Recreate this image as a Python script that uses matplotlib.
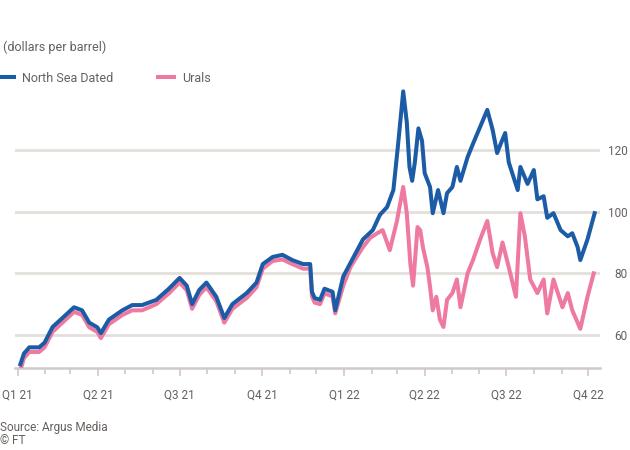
import matplotlib
matplotlib.use("Agg")
import matplotlib.pyplot as plt
import matplotlib.dates as mdates
import pandas as pd

# ---------------- data ----------------
brent_dates = [
    "2021-01-04", "2021-01-08", "2021-01-14", "2021-01-25", "2021-01-31", "2021-02-09",
    "2021-02-20", "2021-03-05", "2021-03-14", "2021-03-22", "2021-03-31", "2021-04-04",
    "2021-04-13", "2021-04-28", "2021-05-09", "2021-05-20", "2021-06-05", "2021-06-19",
    "2021-07-01", "2021-07-09", "2021-07-15", "2021-07-23", "2021-07-31", "2021-08-11",
    "2021-08-20", "2021-08-29", "2021-09-14", "2021-09-25", "2021-10-02", "2021-10-13",
    "2021-10-24", "2021-11-04", "2021-11-16", "2021-11-24", "2021-11-26", "2021-11-29",
    "2021-12-05", "2021-12-10", "2021-12-19", "2021-12-22", "2021-12-31", "2022-01-11",
    "2022-01-22", "2022-02-02", "2022-02-10", "2022-02-18", "2022-02-25", "2022-03-02",
    "2022-03-08", "2022-03-12", "2022-03-15", "2022-03-18", "2022-03-21", "2022-03-25",
    "2022-03-29", "2022-04-01", "2022-04-07", "2022-04-10", "2022-04-16", "2022-04-22",
    "2022-04-26", "2022-05-02", "2022-05-07", "2022-05-11", "2022-05-19", "2022-05-25",
    "2022-06-02", "2022-06-10", "2022-06-16", "2022-06-21", "2022-06-25", "2022-06-30",
    "2022-07-04", "2022-07-14", "2022-07-17", "2022-07-25", "2022-08-01", "2022-08-05",
    "2022-08-12", "2022-08-16", "2022-08-23", "2022-08-31", "2022-09-08", "2022-09-13",
    "2022-09-19", "2022-09-22", "2022-09-30", "2022-10-08",
]
brent_values = [
    50.5, 54.0, 56.0, 56.0, 57.5, 62.6,
    65.5, 69.0, 68.0, 64.0, 62.5, 60.6,
    65.0, 68.0, 69.7, 69.7, 71.4, 75.0,
    78.5, 76.0, 70.0, 74.6, 77.0, 72.4,
    65.5, 70.0, 73.6, 77.0, 83.0, 85.3,
    86.0, 84.3, 83.0, 83.0, 74.0, 72.0,
    71.4, 75.0, 74.0, 68.0, 79.0, 85.0,
    91.0, 94.0, 99.0, 101.5, 107.0, 121.0,
    139.0, 129.0, 114.5, 110.0, 116.0, 127.0,
    123.0, 112.5, 108.0, 99.5, 107.0, 99.5,
    106.0, 108.0, 114.5, 110.0, 117.7, 122.0,
    127.5, 133.0, 126.5, 119.0, 122.0, 125.5,
    116.0, 107.0, 114.5, 109.0, 113.5, 104.0,
    105.0, 98.0, 99.5, 94.0, 92.0, 93.0,
    88.5, 84.3, 91.0, 99.5,
]

urals_dates = [
    "2021-01-04", "2021-01-08", "2021-01-14", "2021-01-25", "2021-01-31", "2021-02-09",
    "2021-02-20", "2021-03-05", "2021-03-14", "2021-03-22", "2021-03-31", "2021-04-04",
    "2021-04-13", "2021-04-28", "2021-05-09", "2021-05-20", "2021-06-05", "2021-06-19",
    "2021-07-01", "2021-07-09", "2021-07-15", "2021-07-23", "2021-07-31", "2021-08-11",
    "2021-08-20", "2021-08-29", "2021-09-14", "2021-09-25", "2021-10-02", "2021-10-13",
    "2021-10-24", "2021-11-04", "2021-11-16", "2021-11-24", "2021-11-26", "2021-11-29",
    "2021-12-05", "2021-12-10", "2021-12-19", "2021-12-22", "2021-12-31", "2022-01-08",
    "2022-01-15", "2022-01-22", "2022-01-30", "2022-02-07", "2022-02-13", "2022-02-21",
    "2022-03-01", "2022-03-08", "2022-03-12", "2022-03-16", "2022-03-19", "2022-03-24",
    "2022-03-27", "2022-03-30", "2022-04-04", "2022-04-07", "2022-04-10", "2022-04-14",
    "2022-04-18", "2022-04-22", "2022-04-26", "2022-05-02", "2022-05-07", "2022-05-11",
    "2022-05-19", "2022-05-25", "2022-06-02", "2022-06-10", "2022-06-16", "2022-06-21",
    "2022-06-27", "2022-07-04", "2022-07-12", "2022-07-17", "2022-07-22", "2022-07-28",
    "2022-08-05", "2022-08-12", "2022-08-16", "2022-08-23", "2022-09-02", "2022-09-08",
    "2022-09-13", "2022-09-22", "2022-09-30", "2022-10-07",
]
urals_values = [
    48.5, 52.5, 54.5, 54.5, 56.0, 61.0,
    64.0, 67.5, 66.5, 62.5, 61.0, 59.0,
    63.5, 66.5, 68.0, 68.0, 70.0, 73.5,
    77.0, 74.5, 68.5, 73.0, 75.5, 71.0,
    64.0, 68.5, 72.0, 75.5, 81.5, 84.0,
    84.5, 83.0, 81.5, 81.5, 72.5, 70.5,
    70.0, 73.5, 72.5, 67.0, 76.0, 82.0,
    85.3, 88.5, 91.5, 93.0, 94.0, 87.5,
    97.0, 108.0, 99.5, 83.0, 76.0, 95.0,
    94.0, 88.5, 82.0, 75.6, 68.0, 72.4,
    65.0, 62.6, 71.4, 73.6, 78.0, 69.0,
    80.0, 84.3, 91.0, 97.0, 86.5, 82.0,
    90.0, 82.0, 72.4, 99.5, 92.0, 78.0,
    73.6, 78.0, 67.0, 78.0, 69.0, 73.6,
    68.0, 62.0, 72.4, 80.0,
]

series_names = ["North Sea Dated", "Urals"]
y_ticks = [60, 80, 100, 120]
quarter_labels = ["Q1 21", "Q2 21", "Q3 21", "Q4 21", "Q1 22", "Q2 22", "Q3 22", "Q4 22"]
quarter_starts = ["2021-01-01", "2021-04-01", "2021-07-01", "2021-10-01",
                  "2022-01-01", "2022-04-01", "2022-07-01", "2022-10-01"]

# ---------------- styling ----------------
BLUE = "#1c5ca6"
PINK = "#ee7aa2"
TEXT = "#66605c"
GRID = "#e3dfdb"
FONT = ["Roboto", "DejaVu Sans"]
plt.rcParams["font.family"] = FONT

fig = plt.figure(figsize=(6.3, 4.5), dpi=100, facecolor="white")
W, H = 630, 450
left, right, top, bottom = 15, 600, 88, 368
ax = fig.add_axes([left / W, 1 - bottom / H, (right - left) / W, (bottom - top) / H])
ax.set_facecolor("white")

bd = pd.to_datetime(brent_dates)
ud = pd.to_datetime(urals_dates)
ax.plot(bd, brent_values, color=BLUE, lw=2.9, zorder=4, solid_joinstyle="round",
        label=series_names[0])
ax.plot(ud, urals_values, color=PINK, lw=2.9, zorder=3, solid_joinstyle="round",
        label=series_names[1])

ax.set_ylim(49.3, 140.1)
ax.set_xlim(pd.Timestamp("2020-12-29"), pd.Timestamp("2022-10-14"))

# gridlines
for v in y_ticks:
    ax.axhline(v, color=GRID, lw=2.0, zorder=1)

for s in ["top", "left", "right"]:
    ax.spines[s].set_visible(False)
ax.spines["bottom"].set_color("#cfcac6")
ax.spines["bottom"].set_linewidth(1.8)

# y axis on right
ax.yaxis.tick_right()
ax.set_yticks(y_ticks)
ax.set_yticklabels([str(v) for v in y_ticks])
ax.tick_params(axis="y", length=0, pad=20, labelsize=8.5, labelcolor=TEXT)
for lab in ax.get_yticklabels():
    lab.set_horizontalalignment("right")

# x axis
ax.set_xticks(pd.to_datetime(quarter_starts))
ax.set_xticklabels(quarter_labels)
ax.xaxis.set_minor_locator(mdates.MonthLocator())
ax.tick_params(axis="x", which="major", length=6, width=1.2, color="#cfcac6",
               pad=9, labelsize=8.5, labelcolor=TEXT)
ax.tick_params(axis="x", which="minor", length=4, width=1.2, color="#cfcac6")

# title, legend, source
fig.text(3 / W, 1 - 47 / H, "(dollars per barrel)", fontsize=9, color=TEXT,
         va="center", ha="left")
fig.legend(loc="center left", bbox_to_anchor=(-2 / W, 1 - 78 / H), ncol=2, frameon=False,
           fontsize=9, labelcolor=TEXT, handlelength=1.3, handletextpad=0.6,
           columnspacing=3.6, borderaxespad=0, borderpad=0)
fig.text(0, 1 - 427 / H, "Source: Argus Media", fontsize=8.5, color=TEXT, va="center", ha="left")
fig.text(0, 1 - 441 / H, "© FT", fontsize=8.5, color=TEXT, va="center", ha="left")

fig.savefig("out.png", dpi=100, facecolor="white")
